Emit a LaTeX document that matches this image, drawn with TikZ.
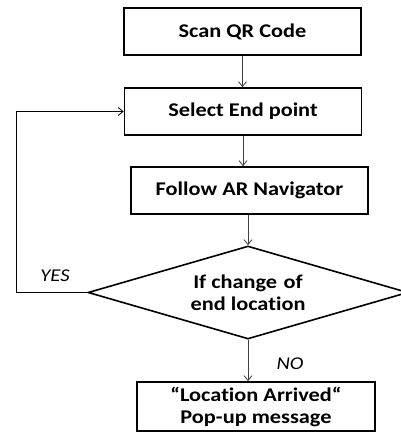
\documentclass[tikz,border=0pt]{standalone}
\usepackage{fontspec}
\setmainfont{Carlito}
\newfontfamily\boxfont[FakeStretch=1.15,Ligatures=NoCommon]{Carlito}
\usetikzlibrary{shapes.geometric,arrows.meta}
\tikzset{
  stepbox/.style={draw=black, line width=1.6pt, minimum width=237pt, minimum height=47pt,
    inner sep=0pt, align=center, font=\boxfont\fontsize{19.4}{22}\selectfont\bfseries},
  decision/.style={draw=black, line width=1.6pt, diamond, aspect=3.44, minimum width=320pt,
    minimum height=93pt, inner sep=0pt, align=center,
    font=\boxfont\fontsize{19.4}{22}\selectfont\bfseries},
  flow/.style={draw=black!75, line width=0.8pt, -{Straight Barb[length=5pt,width=8pt]}},
  loopline/.style={draw=black, line width=0.8pt, -{Straight Barb[length=5pt,width=8pt]}},
  answer/.style={font=\boxfont\fontsize{18}{20}\selectfont\itshape}
}
\begin{document}
\begin{tikzpicture}[x=1pt,y=-1pt]
\useasboundingbox (0,0) rectangle (400,432);
\node[stepbox] (scan) at (242.5,31.5) {Scan QR Code};
\node[stepbox] (select) at (243,111.5) {Select End point};
\node[stepbox] (follow) at (249.5,190.5) {Follow AR Navigator};
\node[decision] (check) at (248,292.5) {If change\,\,of\\end location};
\node[stepbox, minimum width=238pt, minimum height=49pt] (arrived) at (256,406.5)
  {“Location Arrived“\\Pop-up message};
\coordinate (back) at (16,292.5);
\node[answer] (yes) at (55,276) {YES};
\node[answer] (no) at (290,364) {NO};
\draw[flow] (scan.south) -- (scan.south |- select.north);
\draw[flow] (select.south) -- (select.south |- follow.north);
\draw[flow] (check.north |- follow.south) -- (check.north);
\draw[flow] (check.south) -- (check.south |- arrived.north);
\draw[loopline] (check.west) -- (back) |- (select.west);
\end{tikzpicture}
\end{document}
